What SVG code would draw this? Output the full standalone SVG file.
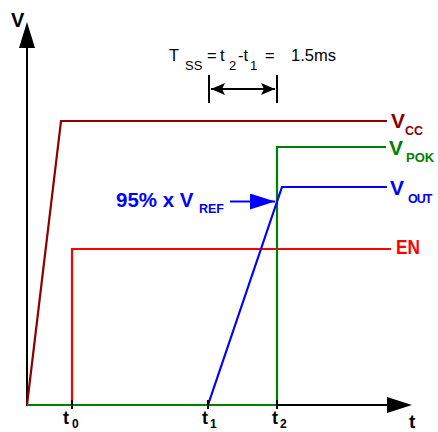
<svg xmlns="http://www.w3.org/2000/svg" width="438" height="432" viewBox="0 0 438 432">
<style>
text{font-family:"Liberation Sans",Arial,sans-serif}
.b{font-weight:bold}
.ax{stroke:#000;stroke-width:2;fill:none}
.sig{fill:none;stroke-width:2.2;stroke-linejoin:miter}
.tick{stroke:#000;stroke-width:2}
</style>
<defs>
<marker id="ah" viewBox="0 0 14 12" refX="14" refY="6" markerWidth="14" markerHeight="12" markerUnits="userSpaceOnUse" orient="auto-start-reverse">
<path d="M0,0 L14,6 L0,12 L3,6 z" fill="#000"/>
</marker>
<marker id="ahb" viewBox="0 0 25 16" refX="25" refY="8" markerWidth="25" markerHeight="16" markerUnits="userSpaceOnUse" orient="auto">
<path d="M0,0 L25,8 L0,16 L0,8 z" fill="#0000ff"/>
</marker>
</defs>
<rect width="438" height="432" fill="#fff"/>
<g id="axes">
<line class="ax" x1="27" y1="406" x2="27" y2="46"/>
<polygon points="27,22 19,48 35,48" fill="#000"/>
<line class="ax" x1="26" y1="405" x2="388" y2="405"/>
<polygon points="412,405 387,397 387,413" fill="#000"/>
<text class="b" x="11" y="27" font-size="20">V</text>
<text class="b" x="409" y="428" font-size="19">t</text>
</g>
<g id="connectors">
<polyline id="vcc" class="sig" stroke="#8b0000" points="27,405 61,121 387,121"/>
<polyline id="en" class="sig" stroke="#ff0000" points="72,405 72,249 391,249"/>
<polyline id="vpok" class="sig" stroke="#008000" stroke-width="2.8" points="27,405 277,405 277,147 386,147"/>
<polyline id="vout" class="sig" stroke="#0000ff" points="208,405 282,187 387,187"/>
<line class="tick" x1="72" y1="400" x2="72" y2="409"/>
<line class="tick" x1="208" y1="400" x2="208" y2="409"/>
<line class="tick" x1="277" y1="400" x2="277" y2="409"/>
<line x1="230" y1="201.5" x2="275" y2="201.5" stroke="#0000ff" stroke-width="2.2" marker-end="url(#ahb)"/>
<line class="tick" x1="209" y1="75" x2="209" y2="103"/>
<line class="tick" x1="277" y1="75" x2="277" y2="103"/>
<line x1="211" y1="89" x2="275" y2="89" stroke="#000" stroke-width="2" marker-start="url(#ah)" marker-end="url(#ah)"/>
</g>
<g id="tss">
<text font-size="16.5" y="61"><tspan x="169">T</tspan><tspan x="185" y="70" font-size="13">SS</tspan><tspan x="207" y="61">=</tspan><tspan x="220">t</tspan><tspan x="229" y="70" font-size="13">2</tspan><tspan x="238" y="61">-t</tspan><tspan x="250" y="70" font-size="13">1</tspan><tspan x="265" y="61">=</tspan><tspan x="291">1.5ms</tspan></text>
</g>
<g id="labels" class="b">
<text class="b" x="391" y="128" font-size="21" fill="#8b0000">V<tspan x="405" y="135" font-size="12.5">CC</tspan></text>
<text class="b" x="389" y="155" font-size="21" fill="#008000">V<tspan x="406" y="162" font-size="13">POK</tspan></text>
<text class="b" x="390" y="195" font-size="21" fill="#0000ff">V<tspan x="408" y="203" font-size="12.5" letter-spacing="-1">OUT</tspan></text>
<text class="b" x="396" y="254" font-size="19.5" fill="#ff0000" textLength="24" lengthAdjust="spacingAndGlyphs">EN</text>
<text class="b" x="116" y="207" font-size="20.5" fill="#0000ff">95% x V<tspan x="199" y="213" font-size="12.5">REF</tspan></text>
<text class="b" x="63" y="424" font-size="18">t<tspan x="72" y="428" font-size="12">0</tspan></text>
<text class="b" x="202" y="424" font-size="18">t<tspan x="210" y="428" font-size="12">1</tspan></text>
<text class="b" x="272" y="424" font-size="18">t<tspan x="280" y="428" font-size="12">2</tspan></text>
</g>
</svg>
